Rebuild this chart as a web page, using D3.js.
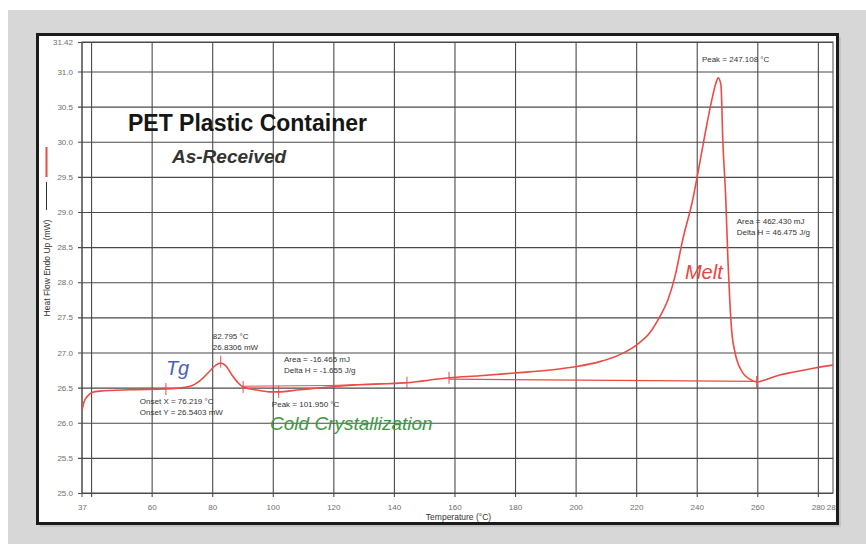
<!DOCTYPE html>
<html>
<head>
<meta charset="utf-8">
<script src="https://cdn.jsdelivr.net/npm/d3@7"></script>
<style>
  body { margin: 0; background: #fff; }
  svg text { font-family: "Liberation Sans", Arial, sans-serif; }
</style>
</head>
<body>
<svg id="chart" width="866" height="544"></svg>
<script>
// DSC trace, temperature (°C) vs heat flow (mW)
const temps = [37, 37.7, 38.65, 40.3, 42.9, 52.8, 64.7, 72.7, 76.0, 79.3, 81.2, 82.8, 84.5, 86.5, 88.5, 90.2,
  94.1, 99.1, 101.7, 109.0, 118.9, 128.8, 144.3, 158.2, 168.4, 180.3, 191.5, 200.4, 208.0, 214.6, 220.2,
  224.5, 227.8, 230.5, 232.8, 235.4, 238.7, 240.4, 242.7, 245.0, 246.3, 247.1, 248.0, 248.6, 249.6, 250.3,
  250.9, 251.6, 252.6, 253.2, 255.2, 257.5, 259.8, 262.5, 267.4, 271.7, 279.0, 285];
const heatFlow = [26.18, 26.30, 26.37, 26.43, 26.45, 26.47, 26.48, 26.52, 26.60, 26.74, 26.82, 26.85, 26.81, 26.68, 26.57, 26.51,
  26.47, 26.44, 26.44, 26.47, 26.51, 26.54, 26.57, 26.64, 26.67, 26.71, 26.75, 26.80, 26.87, 26.97, 27.11,
  27.28, 27.51, 27.75, 28.08, 28.61, 29.18, 29.56, 30.10, 30.60, 30.83, 30.91, 30.81, 30.03, 29.18, 28.32,
  27.75, 27.28, 27.01, 26.90, 26.71, 26.62, 26.58, 26.61, 26.68, 26.72, 26.78, 26.82];

// integration baselines
const ccBaseT = [90.2, 118.9, 144.3];
const ccBaseV = [26.52, 26.53, 26.57];
const meltBaseT = [158.2, 259.8];
const meltBaseV = [26.62, 26.59];

// analysis limit / peak markers on the trace
const markerT = [64.7, 82.8, 90.2, 101.95, 144.3, 158.2, 259.8];
const markerV = [26.48, 26.87, 26.51, 26.44, 26.57, 26.64, 26.58];

const xTickLabels = [37, 60, 80, 100, 120, 140, 160, 180, 200, 220, 240, 260, 280, 285];
const xGrid = [40, 60, 80, 100, 120, 140, 160, 180, 200, 220, 240, 260, 280];
const yTicks = [25.0, 25.5, 26.0, 26.5, 27.0, 27.5, 28.0, 28.5, 29.0, 29.5, 30.0, 30.5, 31.0, 31.42];

const annotations = [
  { t: 80.2, v: 27.19, lines: ["82.795 °C", "26.8306 mW"] },
  { t: 56.1, v: 26.27, lines: ["Onset X = 76.219 °C", "Onset Y = 26.5403 mW"] },
  { t: 103.7, v: 26.87, lines: ["Area = -16.465 mJ", "Delta H = -1.655 J/g"] },
  { t: 99.7, v: 26.23, lines: ["Peak = 101.950 °C"] },
  { t: 241.7, v: 31.13, lines: ["Peak = 247.108 °C"] },
  { t: 253.2, v: 28.83, lines: ["Area = 462.430 mJ", "Delta H = 46.475 J/g"] }
];
const labels = [
  { t: 64.7, v: 26.68, text: "Tg", color: "#4463b4" },
  { t: 99.1, v: 25.90, text: "Cold Crystallization", color: "#3c9a42" },
  { t: 236.1, v: 28.05, text: "Melt", color: "#e8453f" }
];

const svg = d3.select("#chart");
const W = 866, H = 544;
const margin = { left: 82, right: 33, top: 42, bottom: 51 };
const lineColor = "#ec4a44";

// window chrome
svg.append("rect").attr("x", 8).attr("y", 10).attr("width", W - 8).attr("height", H - 10).attr("fill", "#d7d7d7");
svg.append("rect").attr("x", 40).attr("y", 37).attr("width", 801).attr("height", 490).attr("fill", "#c4c4c4");
svg.append("rect").attr("x", 37.5).attr("y", 34.5).attr("width", 800).attr("height", 489).attr("fill", "#fff");

const x = d3.scaleLinear().domain([37, 285]).range([margin.left, W - margin.right]);
const y = d3.scaleLinear().domain([25, 31.42]).range([H - margin.bottom, margin.top]);

// grid
const gridCol = "#4a4a4a";
const gx = svg.append("g")
  .attr("transform", `translate(0,${y(25) + 4})`)
  .call(d3.axisBottom(x).tickValues(xGrid).tickSize(-(y(25) + 4 - y(31.42))).tickFormat(""));
gx.select(".domain").remove();
gx.selectAll("line").attr("stroke", gridCol).attr("stroke-width", 1.1);

const gy = svg.append("g")
  .attr("transform", `translate(${x(37) - 4},0)`)
  .call(d3.axisLeft(y).tickValues(yTicks).tickSize(-(x(285) - x(37) + 4)).tickFormat(""));
gy.select(".domain").remove();
gy.selectAll("line").attr("stroke", gridCol).attr("stroke-width", 1.1);

// frame
svg.append("rect")
  .attr("x", x(37)).attr("y", y(31.42))
  .attr("width", x(285) - x(37)).attr("height", y(25) - y(31.42))
  .attr("fill", "none").attr("stroke", gridCol).attr("stroke-width", 1);
svg.append("line").attr("x1", x(37)).attr("x2", x(37)).attr("y1", y(31.42)).attr("y2", y(25) + 4)
  .attr("stroke", gridCol);

// tick labels
const xl = svg.append("g")
  .attr("transform", `translate(0,${y(25)})`)
  .call(d3.axisBottom(x).tickValues(xTickLabels).tickSize(0).tickPadding(11).tickFormat(d3.format("d")));
xl.select(".domain").remove();
xl.selectAll("text").attr("font-size", 8).attr("fill", "#6e6e6e");

const yl = svg.append("g")
  .attr("transform", `translate(${x(37)},0)`)
  .call(d3.axisLeft(y).tickValues(yTicks).tickSize(0).tickPadding(9)
    .tickFormat(d => d === 31.42 ? "31.42" : d3.format(".1f")(d)));
yl.select(".domain").remove();
yl.selectAll("text").attr("font-size", 8).attr("fill", "#6e6e6e");

// axis titles
svg.append("text")
  .attr("x", (x(37) + x(285)) / 2 + 1).attr("y", 520)
  .attr("text-anchor", "middle").attr("font-size", 8.5).attr("fill", "#333")
  .text("Temperature (°C)");

svg.append("text")
  .attr("transform", `translate(50,268) rotate(-90)`)
  .attr("text-anchor", "middle").attr("font-size", 8.5).attr("fill", "#333")
  .text("Heat Flow Endo Up (mW)");
svg.append("line").attr("x1", 46.5).attr("x2", 46.5).attr("y1", 147).attr("y2", 177)
  .attr("stroke", lineColor).attr("stroke-width", 2);
svg.append("line").attr("x1", 46.5).attr("x2", 46.5).attr("y1", 182).attr("y2", 210)
  .attr("stroke", "#333").attr("stroke-width", 1);

// titles
svg.append("text").attr("x", 128).attr("y", 131)
  .attr("font-size", 23).attr("font-weight", "bold").attr("fill", "#161616")
  .text("PET Plastic Container");
svg.append("text").attr("x", 172).attr("y", 163)
  .attr("font-size", 19).attr("font-weight", "bold").attr("font-style", "italic").attr("fill", "#333")
  .text("As-Received");

// trace
const pts = temps.map((t, i) => [t, heatFlow[i]]);
const line = d3.line().x(d => x(d[0])).y(d => y(d[1])).curve(d3.curveMonotoneX);
svg.append("path").datum(pts).attr("d", line)
  .attr("fill", "none").attr("stroke", lineColor).attr("stroke-width", 1.6);

const straight = d3.line().x(d => x(d[0])).y(d => y(d[1]));
svg.append("path").datum(ccBaseT.map((t, i) => [t, ccBaseV[i]])).attr("d", straight)
  .attr("fill", "none").attr("stroke", lineColor).attr("stroke-width", 1);
svg.append("path").datum(meltBaseT.map((t, i) => [t, meltBaseV[i]])).attr("d", straight)
  .attr("fill", "none").attr("stroke", lineColor).attr("stroke-width", 1.3);

svg.append("g").selectAll("line").data(markerT).join("line")
  .attr("x1", d => x(d)).attr("x2", d => x(d))
  .attr("y1", (d, i) => y(markerV[i]) - 6).attr("y2", (d, i) => y(markerV[i]) + 6)
  .attr("stroke", lineColor).attr("stroke-width", 1);

// annotations
annotations.forEach(a => {
  const txt = svg.append("text").attr("font-size", 8).attr("fill", "#333")
    .attr("x", x(a.t)).attr("y", y(a.v));
  a.lines.forEach((l, i) => {
    txt.append("tspan").attr("x", x(a.t)).attr("dy", i === 0 ? 0 : 11).text(l);
  });
});

svg.append("g").selectAll("text").data(labels).join("text")
  .attr("x", d => x(d.t)).attr("y", d => y(d.v))
  .attr("font-size", d => d.text === "Cold Crystallization" ? 19 : 20)
  .attr("font-style", "italic").attr("fill", d => d.color)
  .text(d => d.text);

// panel border on top, clips the last tick label like the original window does
svg.append("rect").attr("x", 838).attr("y", 34).attr("width", 28).attr("height", 490).attr("fill", "#d7d7d7");
svg.append("rect").attr("x", 838).attr("y", 37).attr("width", 3).attr("height", 490).attr("fill", "#c4c4c4");
svg.append("rect").attr("x", 37.5).attr("y", 34.5).attr("width", 800).attr("height", 489)
  .attr("fill", "none").attr("stroke", "#1c1c1c").attr("stroke-width", 3);
</script>
</body>
</html>
